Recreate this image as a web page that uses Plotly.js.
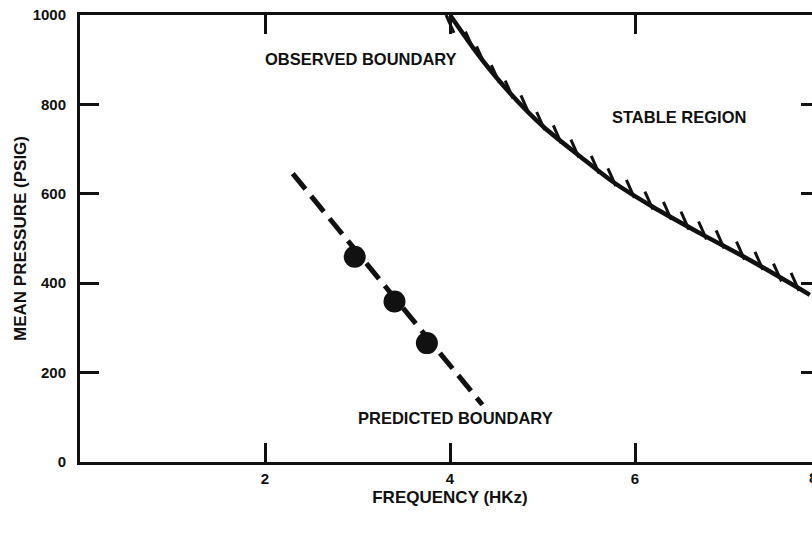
<!DOCTYPE html>
<html>
<head>
<meta charset="utf-8">
<script src="https://cdn.plot.ly/plotly-3.0.1.min.js"></script>
<style>
  html, body { margin: 0; padding: 0; background: #fff; overflow: hidden; width: 812px; height: 542px; }
  #chart { width: 830px; height: 542px; }
</style>
</head>
<body>
<div id="chart"></div>
<script>
// Observed boundary
const observedFreq = [4.00, 4.32, 4.65, 5.01, 5.41, 5.76, 6.19, 6.70, 7.24, 7.89];
const observedPressure = [1000, 907, 825, 750, 683, 627, 571, 512, 452, 374];

// Hatch marks along the observed boundary (stable side)
const hatchFreq = [4.00, 4.21, 4.33, 4.49, 4.64, 4.81, 4.98, 5.16, 5.35, 5.57, 5.75, 5.95, 6.15, 6.35, 6.54, 6.73, 6.92, 7.14, 7.34, 7.54, 7.73];
const hatchPressure = [980, 943, 910, 868, 833, 800, 763, 733, 701, 665, 637, 611, 585, 562, 540, 518, 498, 473, 450, 424, 403];

// Predicted boundary (dashed line endpoints) and predicted points
const predictedLineFreq = [2.30, 4.35];
const predictedLinePressure = [645, 128];
const predictedFreq = [2.97, 3.40, 3.75];
const predictedPressure = [459, 359, 266];

// Axis ticks
const xTickVals = [2, 4, 6];
const xTickText = ['2', '4', '6'];
const xEdgeLabel = '8';
const yTickVals = [0, 200, 400, 600, 800, 1000];
const yTickText = ['0', '200', '400', '600', '800', '1000'];

// Labels
const labels = [
  {text: 'OBSERVED BOUNDARY', x: 3.04, y: 902},
  {text: 'STABLE REGION', x: 6.48, y: 772},
  {text: 'PREDICTED BOUNDARY', x: 4.06, y: 99}
];

const ink = '#111111';
const FONT = 'Liberation Sans, Arial, sans-serif';

const traces = [
  {
    x: observedFreq, y: observedPressure, type: 'scatter', mode: 'lines',
    line: {color: ink, width: 4.5, shape: 'spline', smoothing: 0.8},
    hoverinfo: 'skip', showlegend: false
  },
  {
    x: hatchFreq, y: hatchPressure, type: 'scatter', mode: 'markers',
    marker: {symbol: 'line-ns', size: 14, angle: -24, color: ink, line: {color: ink, width: 3}},
    hoverinfo: 'skip', showlegend: false
  },
  {
    x: predictedLineFreq, y: predictedLinePressure, type: 'scatter', mode: 'lines',
    line: {color: ink, width: 5, dash: '20px,9px'},
    hoverinfo: 'skip', showlegend: false
  },
  {
    x: predictedFreq, y: predictedPressure, type: 'scatter', mode: 'markers',
    marker: {symbol: 'circle', size: 22, color: ink},
    hoverinfo: 'skip', showlegend: false
  }
];

const annotations = labels.map(l => ({
  text: l.text, x: l.x, y: l.y, xref: 'x', yref: 'y',
  showarrow: false, xanchor: 'center', yanchor: 'middle',
  font: {family: FONT, size: 16.5, color: ink, weight: 'bold'}
}));
// x-axis label "8", partly cut by the right edge as in the reference
annotations.push({
  text: xEdgeLabel, xref: 'paper', yref: 'paper', x: 0.982, y: -0.034,
  xanchor: 'left', yanchor: 'middle', showarrow: false,
  font: {family: FONT, size: 15, color: ink, weight: 'bold'}
});

const layout = {
  width: 830, height: 542,
  margin: {l: 80, r: 10, t: 15, b: 80},
  paper_bgcolor: '#ffffff', plot_bgcolor: '#ffffff',
  showlegend: false,
  font: {family: FONT, color: ink, size: 15, weight: 'bold'},
  xaxis: {
    range: [0, 8], fixedrange: true,
    tickvals: xTickVals, ticktext: xTickText,
    ticks: 'inside', ticklen: 19, tickwidth: 3, tickcolor: ink,
    showline: true, linewidth: 3, linecolor: ink, mirror: 'ticks',
    showgrid: false, zeroline: false,
    tickfont: {family: FONT, size: 15, color: ink, weight: 'bold'},
    ticklabelstandoff: 1,
    title: {text: 'FREQUENCY (HKz)', font: {family: FONT, size: 17, color: ink, weight: 'bold'}, standoff: 6}
  },
  yaxis: {
    range: [0, 1000], fixedrange: true,
    tickvals: yTickVals, ticktext: yTickText,
    ticks: 'inside', ticklen: 19, tickwidth: 3, tickcolor: ink,
    showline: true, linewidth: 3, linecolor: ink, mirror: 'ticks',
    showgrid: false, zeroline: false,
    tickfont: {family: FONT, size: 15, color: ink, weight: 'bold'},
    ticklabelstandoff: 8,
    title: {text: 'MEAN PRESSURE (PSIG)', font: {family: FONT, size: 17, color: ink, weight: 'bold'}, standoff: 2}
  },
  annotations: annotations
};

Plotly.newPlot('chart', traces, layout, {staticPlot: true, displayModeBar: false});
</script>
</body>
</html>
